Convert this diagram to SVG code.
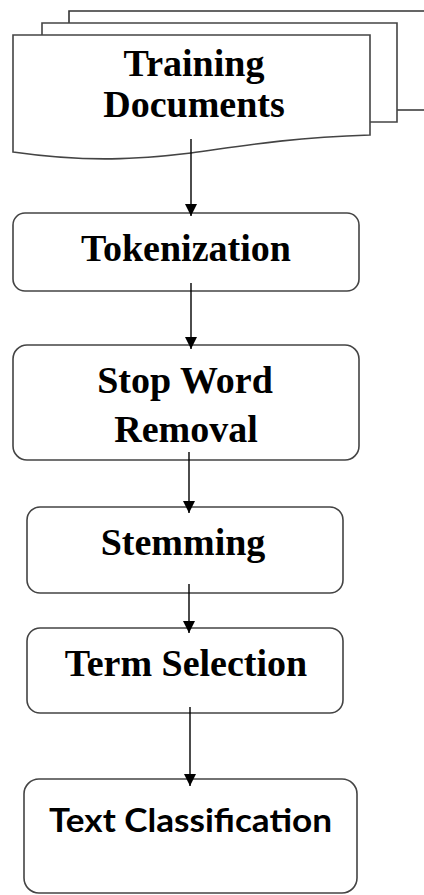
<svg xmlns="http://www.w3.org/2000/svg" width="424" height="895" viewBox="0 0 424 895">
<style>
.box{fill:#fff;stroke:#444;stroke-width:1.6}
.sheet{fill:none;stroke:#333;stroke-width:1.6}
.conn{stroke:#000;stroke-width:1.4;fill:none}
.t{font-family:"Liberation Serif",serif;font-weight:bold;font-size:38px;fill:#000;text-anchor:middle}
.c{font-family:Lato,"Open Sans",sans-serif;font-weight:bold;font-size:33px;fill:#000;text-anchor:middle}
</style>
<defs>
<marker id="ah" viewBox="0 0 10 10" refX="10" refY="5" markerWidth="12" markerHeight="12" markerUnits="userSpaceOnUse" orient="auto">
<path d="M0,0 L10,5 L0,10 z" fill="#000"/>
</marker>
</defs>
<rect width="424" height="895" fill="#fff"/>
<g id="training-documents">
<path class="sheet" d="M69,23 V11 H424 M397,110 H424"/>
<path class="box" d="M42,35 V23 H397 V122 H370"/>
<path class="box" d="M13,35 H370 V135 C280,138 230,148 191,153 C140,159 90,163 13,152 Z"/>
<text class="t" x="194" y="76">Training</text>
<text class="t" x="194" y="117">Documents</text>
</g>
<g id="tokenization">
<rect class="box" x="13" y="213" width="346" height="78" rx="12"/>
<text class="t" x="186" y="261">Tokenization</text>
</g>
<g id="stop-word-removal">
<rect class="box" x="13" y="345" width="346" height="115" rx="14"/>
<text class="t" x="185" y="393">Stop Word</text>
<text class="t" x="186" y="442">Removal</text>
</g>
<g id="stemming">
<rect class="box" x="27" y="507" width="316" height="86" rx="13"/>
<text class="t" x="183" y="555">Stemming</text>
</g>
<g id="term-selection">
<rect class="box" x="27" y="628" width="316" height="85" rx="13"/>
<text class="t" x="186" y="676">Term Selection</text>
</g>
<g id="text-classification">
<rect class="box" x="24" y="779" width="333" height="114" rx="15"/>
<text class="c" x="190.5" y="832" textLength="283" lengthAdjust="spacingAndGlyphs">Text Classification</text>
</g>
<g id="connectors">
<line class="conn" x1="191" y1="139" x2="191" y2="216" marker-end="url(#ah)"/>
<line class="conn" x1="191" y1="283" x2="191" y2="349" marker-end="url(#ah)"/>
<line class="conn" x1="189" y1="452" x2="189" y2="513" marker-end="url(#ah)"/>
<line class="conn" x1="189" y1="584" x2="189" y2="633" marker-end="url(#ah)"/>
<line class="conn" x1="190" y1="707" x2="190" y2="786" marker-end="url(#ah)"/>
</g>
</svg>
